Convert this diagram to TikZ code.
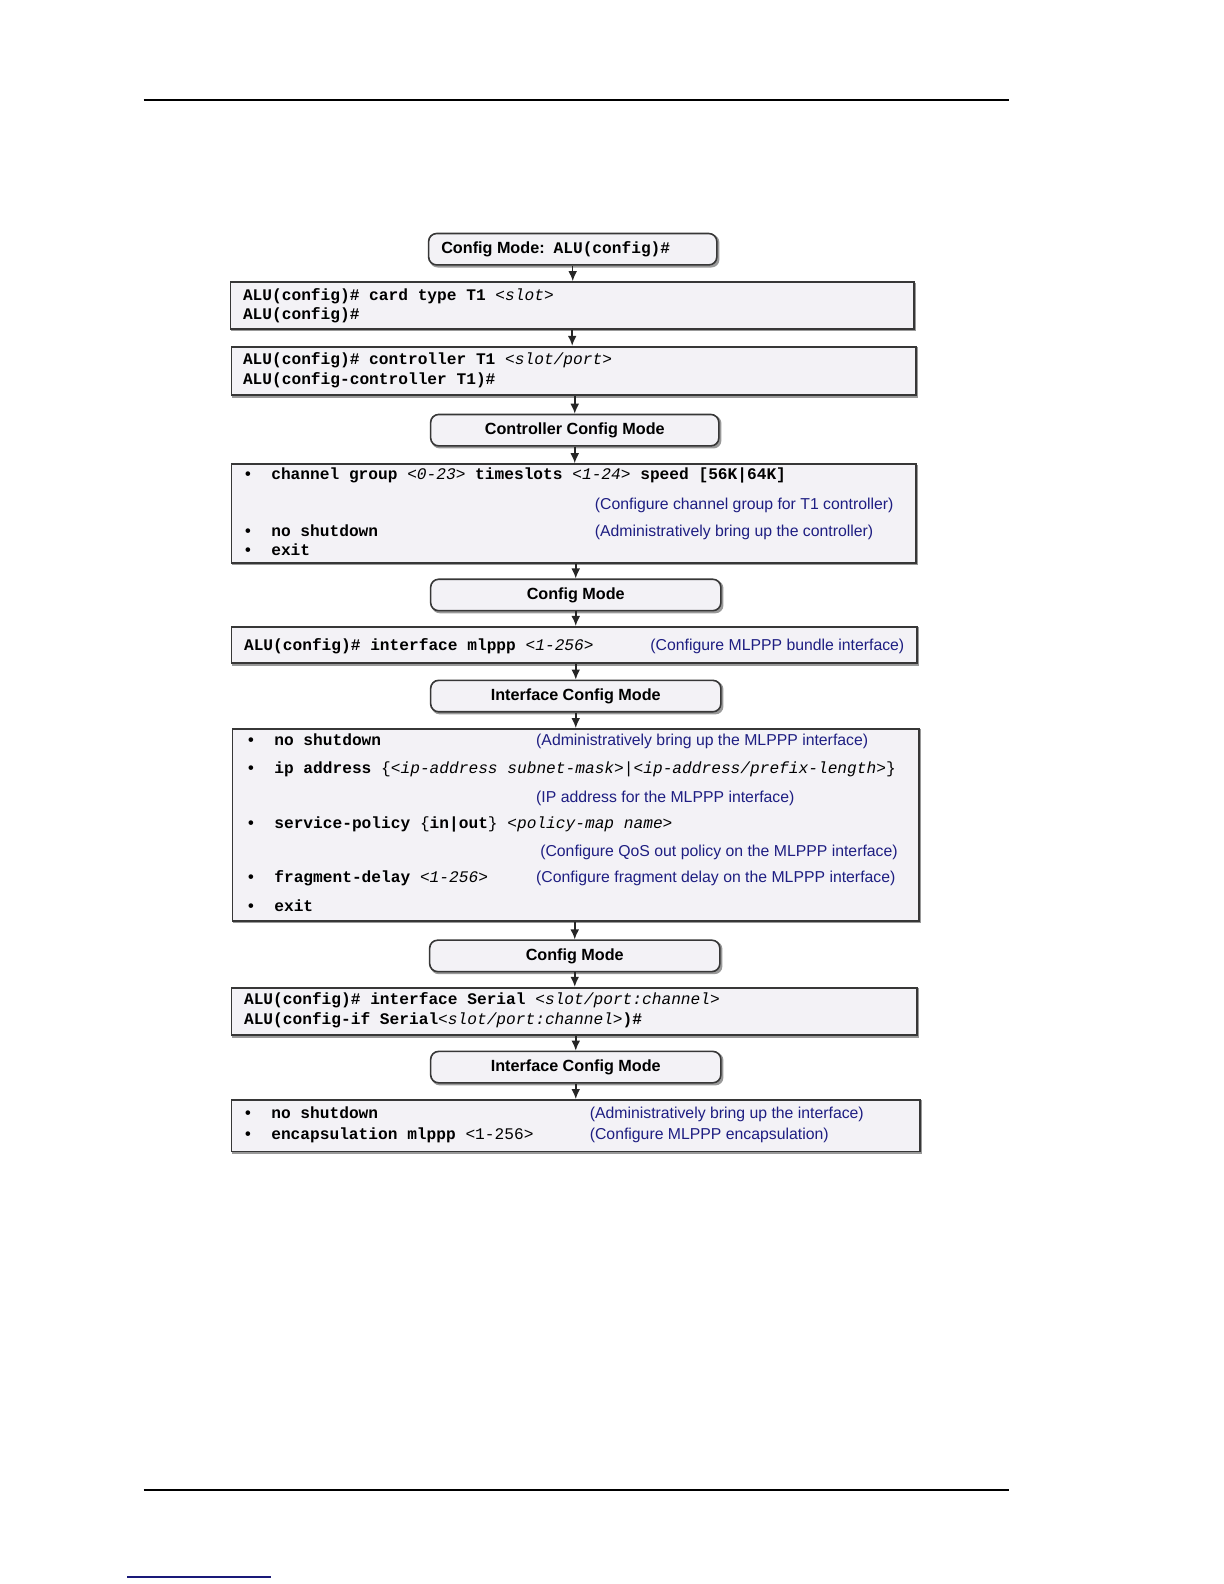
\documentclass[tikz,border=0pt]{standalone}
\usepackage{fontspec}
\setmonofont{Liberation Mono}
\newfontfamily\lblfont{Liberation Sans}
\newfontfamily\cmtfont{Liberation Sans}
\usetikzlibrary{arrows.meta,backgrounds}
\definecolor{boxfill}{RGB}{243,242,246}
\definecolor{boxline}{RGB}{55,55,55}
\definecolor{cmtblue}{RGB}{30,30,130}
\definecolor{linkblue}{RGB}{25,25,120}
\newcommand\pa[1]{{\mdseries\itshape #1}}
\newcommand\pu[1]{{\mdseries #1}}
\newcommand\bl{\makebox[14.15pt][l]{\textbullet}}
\begin{document}
\begin{tikzpicture}[x=0.5055pt,y=-0.5055pt,
  modebox/.style={draw=boxline, line width=0.8pt, fill=boxfill, rounded corners=4pt,
    minimum height=15.7pt, inner sep=0pt,
    font=\lblfont\bfseries\fontsize{8.09}{9}\selectfont},
  cmdbox/.style={draw=boxline, line width=0.9pt, fill=boxfill, inner sep=0pt},
  shade/.style={fill=black!40},
  cmd/.style={anchor=base west, inner sep=0pt, font=\ttfamily\bfseries\fontsize{8.09}{9}\selectfont},
  cmt/.style={anchor=base west, inner sep=0pt, text=cmtblue, font=\cmtfont\fontsize{7.9}{9}\selectfont},
  arr/.style={draw=black!85, line width=0.75pt, -{Latex[length=5pt,width=4.4pt]}},
  rule/.style={draw=black, line width=1pt}]
\useasboundingbox (0pt,0pt) rectangle (612pt,-792pt);

% page rules
\coordinate (t1) at (142,99); \coordinate (t2) at (998,99);
\coordinate (b1) at (142,1474); \coordinate (b2) at (998,1474);
\coordinate (l1) at (126,1560); \coordinate (l2) at (268,1560);
\draw[rule] (t1) -- (t2);
\draw[rule] (b1) -- (b2);
\draw[draw=linkblue, line width=1pt] (l1) -- (l2);

% boxes
\node[modebox, minimum width=144.1pt] (m1) at (566.5,246.5) {Config Mode:\ \ {\ttfamily\fontsize{8.09}{9}\selectfont ALU(config)\#}\hspace*{17pt}};
\node[cmdbox, minimum width=341.7pt, minimum height=23.3pt] (c1) at (566,302) {};
\node[cmdbox, minimum width=342.2pt, minimum height=24.3pt] (c2) at (567.5,367) {};
\node[modebox, minimum width=144.1pt] (m2) at (568.5,425.5) {Controller Config Mode};
\node[cmdbox, minimum width=342.2pt, minimum height=49.5pt] (c3) at (567.5,508) {};
\node[modebox, minimum width=145.1pt] (m3) at (569.5,588.5) {Config Mode};
\node[cmdbox, minimum width=342.7pt, minimum height=18.2pt] (c4) at (568,638) {};
\node[modebox, minimum width=145.1pt] (m4) at (569.5,688.5) {Interface Config Mode};
\node[cmdbox, minimum width=343.2pt, minimum height=96pt] (c5) at (569.5,816) {};
\node[modebox, minimum width=145.1pt] (m5) at (568.5,945.5) {Config Mode};
\node[cmdbox, minimum width=342.7pt, minimum height=23.8pt] (c6) at (568,1000.5) {};
\node[modebox, minimum width=145.1pt] (m6) at (569.5,1055.5) {Interface Config Mode};
\node[cmdbox, minimum width=344.2pt, minimum height=25.8pt] (c7) at (569.5,1113.5) {};

% shadows
\begin{scope}[on background layer]
\foreach \n in {m1,m2,m3,m4,m5,m6}
  \fill[shade, rounded corners=4pt] ([shift={(0.9pt,-0.9pt)}]\n.south west) rectangle ([shift={(0.9pt,-0.9pt)}]\n.north east);
\foreach \n in {c1,c2,c3,c4,c5,c6,c7}
  \fill[shade] ([shift={(0.7pt,-0.7pt)}]\n.south west) rectangle ([shift={(0.7pt,-0.7pt)}]\n.north east);
\end{scope}

% arrows
\draw[arr] (m1.south) -- (m1.south |- c1.north);
\draw[arr] (c1.south) -- (c1.south |- c2.north);
\draw[arr] (m2.north |- c2.south) -- (m2.north);
\draw[arr] (m2.south) -- (m2.south |- c3.north);
\draw[arr] (m3.north |- c3.south) -- (m3.north);
\draw[arr] (m3.south) -- (m3.south |- c4.north);
\draw[arr] (m4.north |- c4.south) -- (m4.north);
\draw[arr] (m4.south) -- (m4.south |- c5.north);
\draw[arr] (m5.north |- c5.south) -- (m5.north);
\draw[arr] (m5.south) -- (m5.south |- c6.north);
\draw[arr] (m6.north |- c6.south) -- (m6.north);
\draw[arr] (m6.south) -- (m6.south |- c7.north);

% box c1
\node[cmd] (c1a) at (240,297) {ALU(config)\# card type T1 \pa{<slot>}};
\node[cmd] (c1b) at (240,316) {ALU(config)\#};
% box c2
\node[cmd] (c2a) at (240,361) {ALU(config)\# controller T1 \pa{<slot/port>}};
\node[cmd] (c2b) at (240,380) {ALU(config-controller T1)\#};
% box c3
\node[cmd] (c3a) at (240,474) {\bl channel group \pa{<0-23>} timeslots \pa{<1-24>} speed [56K|64K]};
\node[cmt] (c3b) at (588,504) {(Configure channel group for T1 controller)};
\node[cmd] (c3c) at (240,531) {\bl no shutdown};
\node[cmt] (c3d) at (588,531) {(Administratively bring up the controller)};
\node[cmd] (c3e) at (240,549) {\bl exit};
% box c4
\node[cmd] (c4a) at (241,643) {ALU(config)\# interface mlppp \pa{<1-256>}};
\node[cmt] (c4b) at (643,643) {(Configure MLPPP bundle interface)};
% box c5
\node[cmd] (c5a) at (243,737) {\bl no shutdown};
\node[cmt] (c5b) at (530,737) {(Administratively bring up the MLPPP interface)};
\node[cmd] (c5c) at (243,765) {\bl ip address \pu{\{}\pa{<ip-address subnet-mask>}\pu{|}\pa{<ip-address/prefix-length>}\pu{\}}};
\node[cmt] (c5d) at (530,794) {(IP address for the MLPPP interface)};
\node[cmd] (c5e) at (243,819) {\bl service-policy \pu{\{}in|out\pu{\}} \pa{<policy-map name>}};
\node[cmt] (c5f) at (534,847) {(Configure QoS out policy on the MLPPP interface)};
\node[cmd] (c5g) at (243,873) {\bl fragment-delay \pa{<1-256>}};
\node[cmt] (c5h) at (530,873) {(Configure fragment delay on the MLPPP interface)};
\node[cmd] (c5i) at (243,902) {\bl exit};
% box c6
\node[cmd] (c6a) at (241,994) {ALU(config)\# interface Serial \pa{<slot/port:channel>}};
\node[cmd] (c6b) at (241,1013) {ALU(config-if Serial\pa{<slot/port:channel>})\#};
% box c7
\node[cmd] (c7a) at (240,1106) {\bl no shutdown};
\node[cmt] (c7b) at (583,1106) {(Administratively bring up the interface)};
\node[cmd] (c7c) at (240,1127) {\bl encapsulation mlppp \pu{<1-256>}};
\node[cmt] (c7d) at (583,1127) {(Configure MLPPP encapsulation)};
\end{tikzpicture}
\end{document}
